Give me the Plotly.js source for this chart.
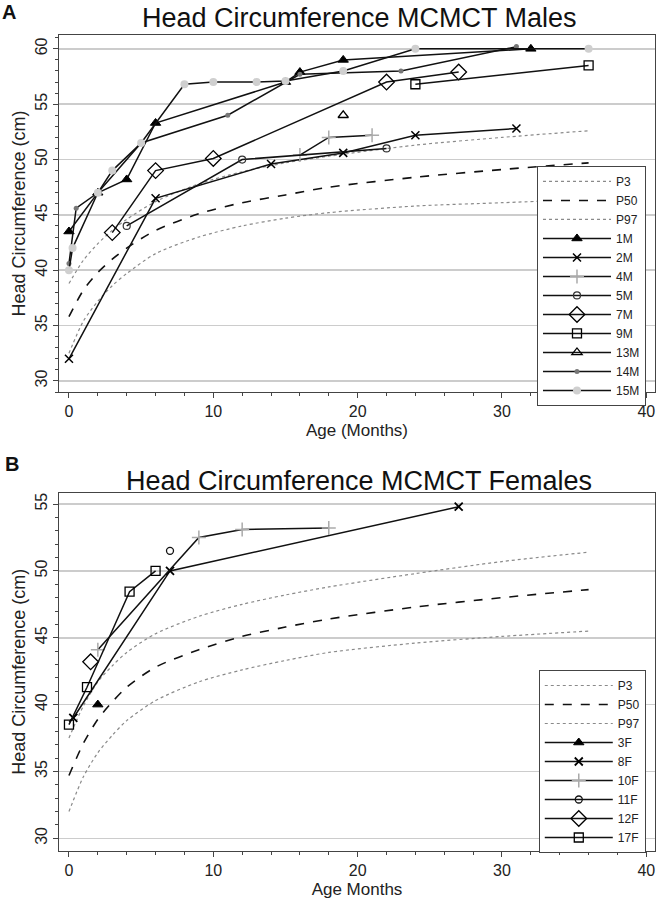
<!DOCTYPE html>
<html>
<head>
<meta charset="utf-8">
<script src="https://cdn.plot.ly/plotly-3.0.1.min.js"></script>
<style>
html,body{margin:0;padding:0;background:#fff;}
#chart{width:662px;height:900px;}
</style>
</head>
<body>
<div id="chart"></div>
<script>
// ---------- reference curves (age in months) ----------
const refAges = [0, 1, 2, 3, 4, 6, 9, 12, 15, 18, 24, 30, 36];
const boysP3  = [32.5, 35.4, 37.2, 38.6, 39.7, 41.5, 43.0, 44.0, 44.7, 45.2, 45.8, 46.1, 46.4];
const boysP50 = [35.8, 38.2, 39.8, 41.0, 42.0, 43.6, 45.1, 46.1, 46.8, 47.5, 48.4, 49.1, 49.7];
const boysP97 = [38.8, 40.9, 42.4, 43.6, 44.6, 46.2, 47.8, 48.9, 49.7, 50.3, 51.3, 52.0, 52.6];
const girlsP3  = [32.0, 34.6, 36.4, 37.7, 38.8, 40.3, 41.7, 42.6, 43.3, 43.9, 44.6, 45.1, 45.5];
const girlsP50 = [34.7, 37.1, 38.9, 40.2, 41.3, 42.8, 44.1, 45.1, 45.8, 46.4, 47.3, 48.0, 48.6];
const girlsP97 = [37.5, 39.9, 41.7, 42.9, 43.9, 45.3, 46.6, 47.5, 48.2, 48.8, 49.8, 50.7, 51.4];

// ---------- males ----------
const m1Age  = [0, 2, 4, 6, 15, 16, 19, 32];
const m1HC   = [43.5, 47.0, 48.2, 53.3, 57.0, 57.9, 59.0, 60.0];
const m2Age  = [0, 6, 14, 19, 24, 31];
const m2HC   = [32.0, 46.5, 49.6, 50.6, 52.2, 52.8];
const m4Age  = [16, 18, 21];
const m4HC   = [50.4, 52.0, 52.2];
const m5Age  = [4, 12, 22];
const m5HC   = [44.0, 50.0, 51.0];
const m7Age  = [3, 6, 10, 22, 27];
const m7HC   = [43.4, 49.0, 50.1, 57.0, 57.9];
const m9Age  = [24, 36];
const m9HC   = [56.8, 58.5];
const m13Age = [19];
const m13HC  = [54.0];
const m14Age = [0, 0.5, 2, 5, 11, 15, 16, 23, 31];
const m14HC  = [40.6, 45.6, 47.0, 51.5, 54.0, 57.0, 57.7, 58.0, 60.2];
const m15Age = [0, 0.25, 2, 3, 5, 8, 10, 13, 15, 19, 24, 36];
const m15HC  = [40.0, 42.0, 47.0, 49.0, 51.5, 56.8, 57.0, 57.0, 57.1, 58.0, 60.0, 60.0];

// ---------- females ----------
const f3Age  = [2];
const f3HC   = [40.0];
const f8Age  = [0.3, 7, 27];
const f8HC   = [39.0, 50.0, 54.8];
const f10Age = [2, 9, 12, 18];
const f10HC  = [44.1, 52.5, 53.1, 53.2];
const f11Age = [7];
const f11HC  = [51.5];
const f12Age = [1.5];
const f12HC  = [43.2];
const f17Age = [0, 1.25, 4.2, 6];
const f17HC  = [38.5, 41.3, 48.45, 50.0];

const FONT = 'Liberation Sans, Arial, Helvetica, sans-serif';
const LINE = '#111';

function ref(name, x, y, dash, color, width, xa, ya, leg) {
  return {x: x, y: y, name: name, mode: 'lines', type: 'scatter',
    line: {color: color, width: width, dash: dash, shape: 'spline', smoothing: 0.8},
    xaxis: xa, yaxis: ya, legend: leg, hoverinfo: 'skip'};
}
function subj(name, x, y, sym, msize, mcolor, mline, xa, ya, leg) {
  return {x: x, y: y, name: name, mode: 'lines+markers', type: 'scatter',
    line: {color: LINE, width: 1.5},
    marker: {symbol: sym, size: msize, color: mcolor, line: {color: mline.color, width: mline.width}},
    xaxis: xa, yaxis: ya, legend: leg, hoverinfo: 'skip'};
}

const traces = [
  ref('P3', refAges, boysP3, 'dot', '#8a8a8a', 1.2, 'x', 'y', 'legend'),
  ref('P50', refAges, boysP50, 'dash', '#111', 1.6, 'x', 'y', 'legend'),
  ref('P97', refAges, boysP97, 'dot', '#8a8a8a', 1.2, 'x', 'y', 'legend'),
  subj('1M', m1Age, m1HC, 'triangle-up', 9, '#000', {color: '#000', width: 1}, 'x', 'y', 'legend'),
  subj('2M', m2Age, m2HC, 'x-thin-open', 8, '#000', {color: '#000', width: 1.5}, 'x', 'y', 'legend'),
  subj('4M', m4Age, m4HC, 'cross-thin-open', 10, '#aaa', {color: '#aaa', width: 1.5}, 'x', 'y', 'legend'),
  subj('5M', m5Age, m5HC, 'circle-open', 7, '#333', {color: '#333', width: 1.2}, 'x', 'y', 'legend'),
  subj('7M', m7Age, m7HC, 'diamond-open', 12, '#000', {color: '#000', width: 1.3}, 'x', 'y', 'legend'),
  subj('9M', m9Age, m9HC, 'square-open', 9, '#000', {color: '#000', width: 1.3}, 'x', 'y', 'legend'),
  subj('13M', m13Age, m13HC, 'triangle-up-open', 9, '#000', {color: '#000', width: 1.3}, 'x', 'y', 'legend'),
  subj('14M', m14Age, m14HC, 'circle', 5, '#777', {color: '#777', width: 0}, 'x', 'y', 'legend'),
  subj('15M', m15Age, m15HC, 'circle', 8, '#cfcfcf', {color: '#cfcfcf', width: 0}, 'x', 'y', 'legend'),

  ref('P3', refAges, girlsP3, 'dot', '#8a8a8a', 1.2, 'x2', 'y2', 'legend2'),
  ref('P50', refAges, girlsP50, 'dash', '#111', 1.6, 'x2', 'y2', 'legend2'),
  ref('P97', refAges, girlsP97, 'dot', '#8a8a8a', 1.2, 'x2', 'y2', 'legend2'),
  subj('3F', f3Age, f3HC, 'triangle-up', 9, '#000', {color: '#000', width: 1}, 'x2', 'y2', 'legend2'),
  subj('8F', f8Age, f8HC, 'x-thin-open', 8, '#000', {color: '#000', width: 1.8}, 'x2', 'y2', 'legend2'),
  subj('10F', f10Age, f10HC, 'cross-thin-open', 10, '#aaa', {color: '#aaa', width: 1.5}, 'x2', 'y2', 'legend2'),
  subj('11F', f11Age, f11HC, 'circle-open', 7, '#111', {color: '#111', width: 1.3}, 'x2', 'y2', 'legend2'),
  subj('12F', f12Age, f12HC, 'diamond-open', 12, '#000', {color: '#000', width: 1.3}, 'x2', 'y2', 'legend2'),
  subj('17F', f17Age, f17HC, 'square-open', 9, '#000', {color: '#000', width: 1.3}, 'x2', 'y2', 'legend2')
];

function xAxis(anchor, title) {
  return {anchor: anchor, domain: [0, 1], range: [-0.69, 40.6],
    tick0: 0, dtick: 10, ticks: 'outside', ticklen: 5, tickcolor: '#444', tickwidth: 1,
    minor: {dtick: 2, ticks: 'outside', ticklen: 3, tickcolor: '#444', showgrid: false},
    showline: true, mirror: true, linecolor: '#444', linewidth: 1,
    showgrid: false, zeroline: false,
    tickfont: {family: FONT, size: 16, color: '#222'},
    title: {text: title, font: {family: FONT, size: 17, color: '#222'}, standoff: 4}};
}
function yAxis(anchor, domain, range) {
  return {anchor: anchor, domain: domain, range: range,
    tick0: 0, dtick: 5, ticks: 'outside', ticklen: 5, tickcolor: '#444', tickwidth: 1, tickangle: -90,
    minor: {dtick: 1, ticks: 'outside', ticklen: 3, tickcolor: '#444', showgrid: false},
    showline: true, mirror: true, linecolor: '#444', linewidth: 1,
    showgrid: true, gridcolor: '#cccccc', gridwidth: 1.5, zeroline: false,
    tickfont: {family: FONT, size: 16, color: '#222'},
    title: {text: 'Head Circumference (cm)', font: {family: FONT, size: 18, color: '#222'}, standoff: 2}};
}
const legendBase = {bgcolor: '#fff', bordercolor: '#444', borderwidth: 1,
  font: {family: FONT, size: 12, color: '#222'}, xanchor: 'left', yanchor: 'top',
  itemwidth: 68, tracegroupgap: 0, itemclick: false};

const layout = {
  width: 662, height: 900,
  margin: {l: 59, r: 7, t: 35, b: 49},
  paper_bgcolor: '#fff', plot_bgcolor: '#fff',
  font: {family: FONT, color: '#222'},
  showlegend: true,
  xaxis: xAxis('y', 'Age (Months)'),
  yaxis: yAxis('x', [0.5625, 1], [29.0, 61.25]),
  xaxis2: xAxis('y2', 'Age Months'),
  yaxis2: yAxis('x2', [0, 0.4391], [29.05, 55.85]),
  legend: Object.assign({}, legendBase, {x: 0.802, y: 0.8395}),
  legend2: Object.assign({}, legendBase, {x: 0.805, y: 0.2218}),
  annotations: [
    {text: 'Head Circumference MCMCT Males', xref: 'paper', yref: 'paper', x: 0.504, y: 1.0208,
     xanchor: 'center', yanchor: 'middle', showarrow: false, font: {family: FONT, size: 27, color: '#111'}},
    {text: 'Head Circumference MCMCT Females', xref: 'paper', yref: 'paper', x: 0.504, y: 0.4534,
     xanchor: 'center', yanchor: 'middle', showarrow: false, font: {family: FONT, size: 27, color: '#111'}},
    {text: '<b>A</b>', xref: 'paper', yref: 'paper', x: -0.0839, y: 1.0282,
     xanchor: 'center', yanchor: 'middle', showarrow: false, font: {family: FONT, size: 20, color: '#111'}},
    {text: '<b>B</b>', xref: 'paper', yref: 'paper', x: -0.0789, y: 0.4743,
     xanchor: 'center', yanchor: 'middle', showarrow: false, font: {family: FONT, size: 20, color: '#111'}}
  ]
};

Plotly.newPlot('chart', traces, layout, {displayModeBar: false, staticPlot: true});
</script>
</body>
</html>
